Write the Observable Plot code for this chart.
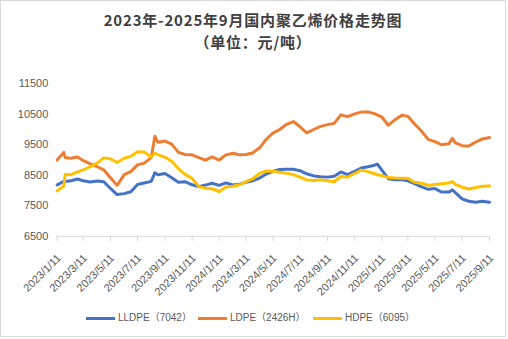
<!DOCTYPE html>
<html><head><meta charset="utf-8">
<script src="https://cdn.jsdelivr.net/npm/d3@7"></script>
<script src="https://cdn.jsdelivr.net/npm/@observablehq/plot@0.6"></script>
<style>
body{margin:0;background:#fff;}
#frame{position:relative;width:506px;height:337px;box-sizing:border-box;border:1px solid #d9d9d9;background:#fff;font-family:"Noto Sans CJK SC","Noto Sans",sans-serif;overflow:hidden;}
.tl{position:absolute;left:0;right:0;text-align:center;font-weight:bold;font-size:15px;letter-spacing:0.8px;line-height:18px;color:#404040;white-space:nowrap;}
#t1{top:9.5px;}
#t2{top:32px;}
#chart{position:absolute;left:-1px;top:49px;}
.it{position:absolute;top:311px;display:flex;align-items:center;font-family:"Liberation Sans","Noto Sans CJK SC",sans-serif;font-size:10px;color:#595959;white-space:nowrap;line-height:12px;}
.sw{width:29px;height:3px;margin-right:3px;}
</style></head>
<body>
<div id="frame">
  <div class="tl" id="t1">2023年-2025年9月国内聚乙烯价格走势图</div>
  <div class="tl" id="t2">（单位：元/吨）</div>
  <div id="chart"></div>
</div>
<script>
const dates = ["2023-01-11","2023-01-26","2023-01-29","2023-02-11","2023-02-26","2023-03-11","2023-03-26","2023-04-11","2023-04-26","2023-05-11","2023-05-26","2023-06-11","2023-06-26","2023-07-11","2023-07-26","2023-08-11","2023-08-19","2023-08-26","2023-09-11","2023-09-26","2023-10-11","2023-10-26","2023-11-11","2023-11-26","2023-12-11","2023-12-26",
"2024-01-11","2024-01-26","2024-02-11","2024-02-26","2024-03-11","2024-03-26","2024-04-11","2024-04-26","2024-05-11","2024-05-26","2024-06-11","2024-06-26","2024-07-11","2024-07-26","2024-08-11","2024-08-26","2024-09-11","2024-09-26","2024-10-11","2024-10-26","2024-11-11","2024-11-26","2024-12-11","2024-12-26","2025-01-01",
"2025-01-11","2025-01-26","2025-02-11","2025-02-26","2025-03-11","2025-03-26","2025-04-11","2025-04-26","2025-05-11","2025-05-26","2025-06-11","2025-06-19","2025-06-26","2025-07-11","2025-07-26","2025-08-11","2025-08-26","2025-09-11"];

const lldpe = [8185,8300,8300,8320,8380,8320,8280,8310,8290,8070,7870,7900,7960,8200,8250,8300,8580,8520,8560,8420,8270,8290,8190,8130,8180,8240,
8170,8250,8185,8210,8270,8320,8410,8540,8630,8690,8700,8700,8650,8550,8480,8455,8440,8470,8610,8520,8630,8740,8780,8830,8870,
8680,8390,8350,8350,8320,8230,8120,8040,8070,7950,7950,8020,7930,7730,7650,7620,7650,7620];

const ldpe = [9000,9250,9080,9060,9100,8980,8880,8780,8680,8420,8170,8520,8620,8840,8900,9080,9780,9580,9620,9520,9250,9180,9170,9080,9000,9100,
9000,9170,9220,9170,9180,9230,9400,9680,9880,10000,10170,10260,10090,9890,10000,10100,10160,10200,10480,10420,10510,10570,10570,10520,10480,
10410,10140,10330,10470,10430,10180,9940,9670,9600,9500,9530,9710,9560,9470,9460,9590,9690,9740];

const hdpe = [7990,8150,8530,8520,8610,8680,8780,8900,9070,9040,8920,9060,9120,9270,9260,9100,9220,9180,9090,8960,8720,8530,8400,8130,8075,8060,
7970,8120,8140,8190,8290,8380,8560,8640,8630,8600,8570,8520,8440,8350,8330,8350,8320,8290,8460,8440,8560,8670,8620,8550,8520,
8490,8430,8410,8400,8400,8270,8240,8170,8200,8220,8250,8290,8200,8110,8050,8100,8140,8150];

const seriesNames = ["LLDPE（7042）","LDPE（2426H）","HDPE（6095）"];
const seriesColors = ["#4472C4","#ED7D31","#FFC000"];
const xTickLabels = ["2023/1/11","2023/3/11","2023/5/11","2023/7/11","2023/9/11","2023/11/11","2024/1/11","2024/3/11","2024/5/11","2024/7/11","2024/9/11","2024/11/11","2025/1/11","2025/3/11","2025/5/11","2025/7/11","2025/9/11"];
const yTicks = [6500,7500,8500,9500,10500,11500];

const parse = d3.utcParse("%Y-%m-%d");
const parseTick = d3.utcParse("%Y/%m/%d");
const values = [lldpe, ldpe, hdpe];
const table = [];
seriesNames.forEach((s, k) => {
  dates.forEach((d, i) => table.push({series: s, date: parse(d), value: values[k][i]}));
});
const tickDates = xTickLabels.map(t => parseTick(t));
const tickTable = tickDates.map((d, i) => ({date: d, label: xTickLabels[i]}));

const chart = Plot.plot({
  width: 508,
  height: 256,
  marginLeft: 57,
  marginRight: 16,
  marginTop: 18,
  marginBottom: 69,
  style: {fontFamily: '"Liberation Sans","Noto Sans CJK SC",sans-serif', fontSize: "11px", background: "transparent"},
  x: {type: "utc", domain: [tickDates[0], tickDates[tickDates.length - 1]]},
  y: {domain: [6500, 12000]},
  color: {domain: seriesNames, range: seriesColors},
  marks: [
    Plot.axisY({ticks: yTicks, tickFormat: d => String(d), tickSize: 0, tickPadding: 9, fill: "#595959", label: null}),
    Plot.ruleY([6500], {stroke: "#d9d9d9", strokeWidth: 1}),
    Plot.axisX({ticks: tickDates, tickFormat: () => "", tickSize: 5, stroke: "#d9d9d9", label: null}),
    Plot.text(tickTable, {x: "date", text: "label", frameAnchor: "bottom", rotate: -45, textAnchor: "end", lineAnchor: "middle", dx: 2, dy: 20, fill: "#595959", fontSize: 11}),
    Plot.line(table, {x: "date", y: "value", z: "series", stroke: "series", strokeWidth: 3, strokeLinejoin: "round", strokeLinecap: "round"})
  ]
});
document.getElementById("chart").appendChild(chart);

const frame = document.getElementById("frame");
const legendLeft = [85, 197, 312];
seriesNames.forEach((s, k) => {
  const it = document.createElement("div");
  it.className = "it";
  it.style.left = legendLeft[k] + "px";
  const sw = document.createElement("span");
  sw.className = "sw";
  sw.style.background = seriesColors[k];
  const tx = document.createElement("span");
  tx.textContent = s;
  it.appendChild(sw); it.appendChild(tx);
  frame.appendChild(it);
});
</script>
</body></html>
